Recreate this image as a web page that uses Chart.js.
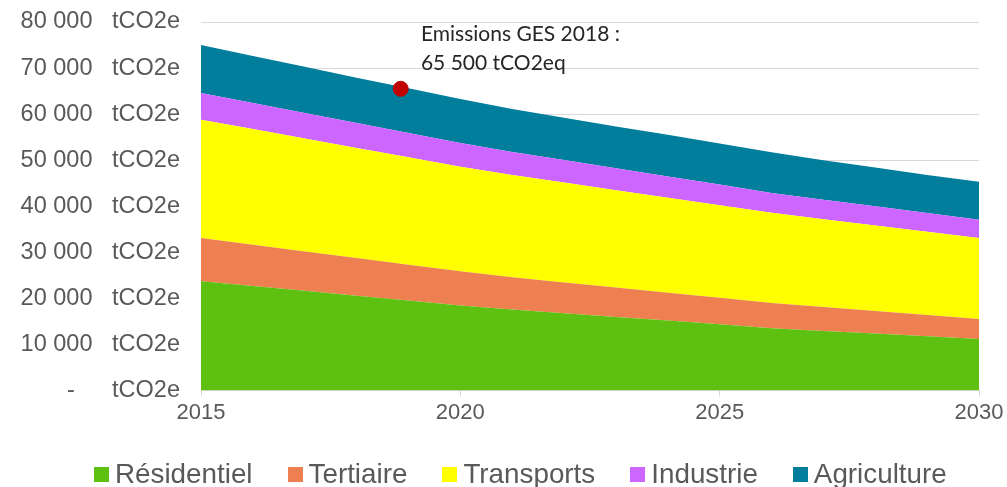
<!DOCTYPE html>
<html>
<head>
<meta charset="utf-8">
<script src="https://cdn.jsdelivr.net/npm/chart.js@4.4.1/dist/chart.umd.min.js"></script>
<style>
  html, body { margin: 0; padding: 0; background: #fff; }
  #wrap { position: relative; width: 1007px; height: 487px; overflow: hidden; }
  #c { position: absolute; left: 0; top: 0; }
  #legend {
    position: absolute; left: 94px; top: 460px; height: 28px;
    display: flex; align-items: center; white-space: nowrap;
    font-family: "Liberation Sans", Arial, sans-serif; font-size: 27.8px; line-height: 27.5px; color: #595959;
  }
  #legend .item { display: flex; align-items: center; margin-right: 35px; }
  #legend .box { width: 15px; height: 15px; margin-right: 6px; flex: none; }
</style>
</head>
<body>
<div id="wrap">
  <canvas id="c" width="1007" height="487"></canvas>
  <div id="legend"></div>
</div>
<script>
// ---- Data ----
const years = [2015, 2016, 2017, 2018, 2019, 2020, 2021, 2022, 2023, 2024, 2025, 2026, 2027, 2028, 2029, 2030];
const seriesNames = ["Résidentiel", "Tertiaire", "Transports", "Industrie", "Agriculture"];
const residentiel = [23740, 22700, 21630, 20590, 19520, 18480, 17590, 16780, 15980, 15170, 14370, 13520, 12930, 12370, 11780, 11200];
const tertiaire   = [9350, 8950, 8570, 8170, 7780, 7390, 6980, 6680, 6370, 6070, 5760, 5460, 5180, 4870, 4610, 4340];
const transports  = [25710, 25110, 24520, 23910, 23330, 22720, 22190, 21670, 21130, 20610, 20090, 19590, 19090, 18590, 18070, 17550];
const industrie   = [5800, 5670, 5540, 5420, 5280, 5150, 5020, 4890, 4760, 4630, 4500, 4320, 4230, 4150, 4060, 3980];
const agriculture = [10400, 10170, 10040, 9810, 9690, 9560, 9320, 9180, 9060, 9020, 8880, 8810, 8570, 8420, 8280, 8230];
const marker2018 = { x: 2018.85, y: 65500 };
const annotationLines = ["Emissions GES 2018 :", "65 500 tCO2eq"];
const yUnit = "tCO2e";

// ---- Styles ----
const colors = ["#5EC010", "#EE7F50", "#FFFF00", "#CC66FF", "#007E9B"];
const annotationAnchor = { x: 2019.24, y: 75800 };
const FONT = '"Liberation Sans", Arial, sans-serif';

const seriesData = [residentiel, tertiaire, transports, industrie, agriculture];

const datasets = seriesData.map((arr, i) => ({
  label: seriesNames[i],
  data: years.map((yr, k) => ({ x: yr, y: arr[k] })),
  backgroundColor: colors[i],
  borderColor: colors[i],
  borderWidth: 0,
  pointRadius: 0,
  pointHoverRadius: 0,
  tension: 0,
  fill: i === 0 ? 'origin' : '-1',
  stack: 'areas'
}));
datasets.push({
  type: 'scatter',
  label: 'Emissions GES 2018',
  data: [marker2018],
  backgroundColor: '#C00000',
  borderColor: '#C00000',
  pointRadius: 7.5,
  showLine: false,
  fill: false,
  stack: 'marker',
  order: -1
});

function fmtThousands(v) {
  return String(Math.round(v)).replace(/\B(?=(\d{3})+(?!\d))/g, ' ');
}

const annotationPlugin = {
  id: 'annotationText',
  afterDatasetsDraw(chart) {
    const { ctx, scales } = chart;
    const px = scales.x.getPixelForValue(annotationAnchor.x);
    const py = scales.y.getPixelForValue(annotationAnchor.y);
    ctx.save();
    ctx.font = '21px Lato, "Liberation Sans", sans-serif';
    ctx.fillStyle = '#262626';
    ctx.textAlign = 'left';
    ctx.textBaseline = 'alphabetic';
    annotationLines.forEach((t, i) => ctx.fillText(t, px, py + i * 28.3));
    ctx.restore();
  }
};

const chart = new Chart(document.getElementById('c'), {
  type: 'line',
  data: { datasets },
  plugins: [annotationPlugin],
  options: {
    responsive: false,
    animation: false,
    devicePixelRatio: 1,
    layout: { padding: { left: 0, right: 28, top: 22, bottom: 0 } },
    plugins: { legend: { display: false }, tooltip: { enabled: false } },
    elements: { line: { borderWidth: 0 } },
    scales: {
      x: {
        type: 'linear',
        min: 2015, max: 2030,
        afterFit(scale) { scale.height = 96.5; },
        ticks: {
          stepSize: 5,
          color: '#595959',
          font: { family: FONT, size: 22 },
          padding: 3,
          maxRotation: 0,
          callback: v => String(v)
        },
        grid: { drawOnChartArea: false, drawTicks: true, tickLength: 6, color: '#d9d9d9' },
        border: { display: true, color: '#d9d9d9' }
      },
      y: {
        stacked: true,
        min: 0, max: 80000,
        afterFit(scale) { scale.width = 201; scale.paddingTop = 0; scale.paddingBottom = 0; },
        ticks: {
          stepSize: 10000,
          color: '#595959',
          font: { family: FONT, size: 23.5 },
          padding: 21,
          callback: v => (v === 0 ? '-     \u2009' : fmtThousands(v) + '   ') + yUnit
        },
        grid: { color: '#d9d9d9', drawTicks: false },
        border: { display: false }
      }
    }
  }
});

// HTML legend built from the chart's datasets
const legendEl = document.getElementById('legend');
chart.data.datasets.slice(0, seriesNames.length).forEach(ds => {
  const item = document.createElement('div');
  item.className = 'item';
  const box = document.createElement('span');
  box.className = 'box';
  box.style.background = ds.backgroundColor;
  const txt = document.createElement('span');
  txt.textContent = ds.label;
  item.appendChild(box);
  item.appendChild(txt);
  legendEl.appendChild(item);
});
</script>
</body>
</html>
